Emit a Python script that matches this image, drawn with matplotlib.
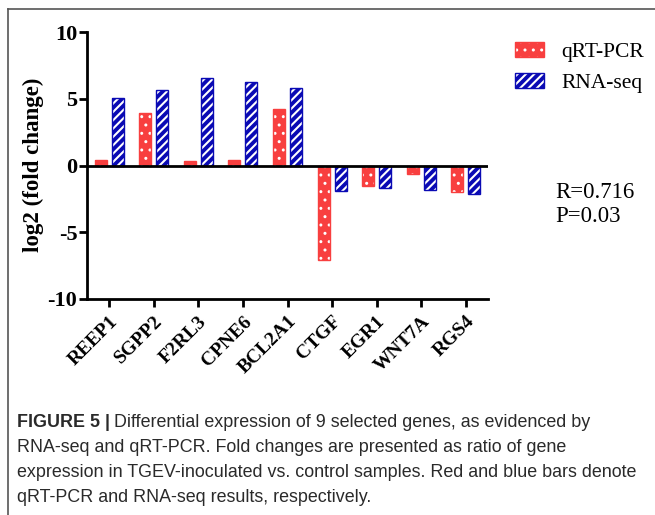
import numpy as np
import matplotlib
matplotlib.use("Agg")
import matplotlib.pyplot as plt
from matplotlib.patches import Rectangle
from matplotlib.lines import Line2D

genes = ["REEP1", "SGPP2", "F2RL3", "CPNE6", "BCL2A1", "CTGF", "EGR1", "WNT7A", "RGS4"]
qrt_pcr = [0.42, 3.95, 0.30, 0.40, 4.25, -7.1, -1.5, -0.65, -2.0]
rna_seq = [5.07, 5.67, 6.54, 6.24, 5.84, -1.9, -1.65, -1.85, -2.17]
series_names = ["qRT-PCR", "RNA-seq"]
stats_text = ["R=0.716", "P=0.03"]

red = "#f83f3f"
blue = "#0a0ab4"
serif = "Liberation Serif"

plt.rcParams["axes.unicode_minus"] = False
W, H = 655, 515
fig = plt.figure(figsize=(W / 100, H / 100), dpi=100)
ax = fig.add_axes([87 / W, 1 - 299 / H, 401 / W, 267 / H])

x = np.arange(len(genes))
w = 0.27
off = 0.19
# fills with white hatch, then coloured outline on top
with plt.rc_context({"hatch.linewidth": 1.0}):
    ax.bar(x - off, qrt_pcr, w, color=red, edgecolor="white", hatch="..", linewidth=0)
ax.bar(x - off, qrt_pcr, w, fill=False, edgecolor=red, linewidth=1)
with plt.rc_context({"hatch.linewidth": 1.5}):
    ax.bar(x + off, rna_seq, w, color=blue, edgecolor="white", hatch="////", linewidth=0)
ax.bar(x + off, rna_seq, w, fill=False, edgecolor=blue, linewidth=1)

ax.axhline(0, color="black", lw=2)
ax.set_xlim(-0.5, 8.5)
ax.set_ylim(-10, 10)
ax.set_yticks([-10, -5, 0, 5, 10])
ax.set_xticks(x)
ax.set_xticklabels(genes, rotation=45, ha="right", rotation_mode="anchor",
                   fontsize=14, fontweight="bold", family=serif)
for t in ax.get_yticklabels():
    t.set_fontsize(16)
    t.set_fontweight("bold")
    t.set_family(serif)
ax.tick_params(axis="y", width=2, length=6, direction="out", pad=1)
ax.tick_params(axis="x", width=2, length=6, direction="out", pad=4)
for s in ["top", "right"]:
    ax.spines[s].set_visible(False)
for s in ["left", "bottom"]:
    ax.spines[s].set_linewidth(2)

fig.text(33 / W, 1 - 165 / H, "log2 (fold change)", rotation=90, ha="center", va="center",
         fontsize=16.5, fontweight="bold", family=serif)

# legend drawn by hand in pixel positions
leg = [(red, "..", 1.0, 42), (blue, "////", 1.5, 73)]
for (col, hat, hlw, top), name in zip(leg, series_names):
    with plt.rc_context({"hatch.linewidth": hlw}):
        fig.add_artist(Rectangle((515 / W, 1 - (top + 15) / H), 29 / W, 15 / H,
                                 transform=fig.transFigure, facecolor=col,
                                 edgecolor="white", hatch=hat, linewidth=0))
    fig.add_artist(Rectangle((515 / W, 1 - (top + 15) / H), 29 / W, 15 / H,
                             transform=fig.transFigure, fill=False,
                             edgecolor=col, linewidth=1))
    fig.text(561 / W, 1 - (top + 15) / H, name, ha="left", va="baseline",
             fontsize=15.5, family=serif)

fig.text(555 / W, 1 - 198 / H, stats_text[0], ha="left", va="baseline",
         fontsize=16.5, family=serif)
fig.text(555 / W, 1 - 222 / H, stats_text[1], ha="left", va="baseline",
         fontsize=16.5, family=serif)

# frame around the figure panel
fig.add_artist(Line2D([8 / W, 8 / W], [0, 1 - 9 / H], color="#555555", lw=1.2))
fig.add_artist(Line2D([8 / W, 1.0], [1 - 9 / H, 1 - 9 / H], color="#555555", lw=1.2))

# caption
cap_font = "Liberation Sans"
cap_size = 12.9
cap_col = "#2a2a2a"
cap_x = 17 / W
baselines = [427, 452, 477, 502]
b = fig.text(cap_x, 1 - baselines[0] / H, "FIGURE 5 |", fontsize=cap_size, fontweight="bold",
             family=cap_font, va="baseline", color=cap_col)
fig.canvas.draw()
bb = b.get_window_extent(renderer=fig.canvas.get_renderer())
x2 = (bb.x1 + 4) / fig.bbox.width
fig.text(x2, 1 - baselines[0] / H,
         "Differential expression of 9 selected genes, as evidenced by",
         fontsize=cap_size, family=cap_font, va="baseline", color=cap_col)
caption_rest = ["RNA-seq and qRT-PCR. Fold changes are presented as ratio of gene",
                "expression in TGEV-inoculated vs. control samples. Red and blue bars denote",
                "qRT-PCR and RNA-seq results, respectively."]
for yy, line in zip(baselines[1:], caption_rest):
    fig.text(cap_x, 1 - yy / H, line, fontsize=cap_size, family=cap_font, va="baseline",
             color=cap_col)

fig.savefig("out.png", dpi=100)
